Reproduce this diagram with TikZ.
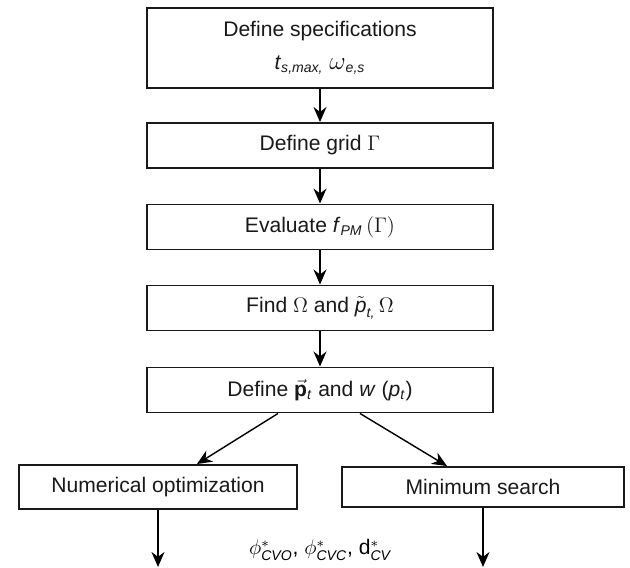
\documentclass[tikz,border=0pt]{standalone}
\usepackage{amsmath,amssymb}
\usepackage{fontspec}
\setmainfont{Liberation Sans}
\usepackage{tikz}
\usetikzlibrary{
	arrows.meta,
	calc,
	positioning,
}
\tikzset{flow box/.style={
	draw,
	rectangle,
	inner sep=0mm,
	line width=1.1pt,
	minimum width=69.2mm,
	minimum height=9mm,
	align=center,
	font=\fontsize{12}{16}\selectfont,
	black!90,
}}

\begin{document}
\begin{tikzpicture}[
x=0.2mm, y=-0.2mm,
line width=0.8pt,
-{Stealth[length=3mm,width=2.6mm]},
]
\useasboundingbox (0,0) rectangle (630,568);

\tikzset{
	spec/.style={flow box, minimum height=16mm},
	solver/.style={flow box, minimum width=55.6mm, minimum height=8.8mm},
}

\node(specs)[spec] at(320,48) {Define specifications\\[2.5pt]
	\textit{t}\textsubscript{\textit{s,max,}} {\Large$\omega$}\textsubscript{\textit{e,s}}};

\begin{scope}[every node/.style={flow box}]
\node(grid)		at(320,145.5)	{Define grid $\Gamma$};
\node(eval)		at(320,227)		{Evaluate \textit{f}\textsubscript{\textit{PM}}\,$(\Gamma)$};
\node(find)		at(320,308)		{Find $\Omega$ and $\tilde{\textit{p}}_{\textit{t,}}\,\Omega$};
\node(define)	at(320,390)		{Define $\vec{\textbf{p}}$\textsubscript{\textit{t}} and \textit{w} (\textit{p}\textsubscript{\textit{t}})};
\end{scope}

\node(numopt)[solver]						at(158,487)	{Numerical optimization};
\node(minsearch)[solver, minimum width=56.4mm, minimum height=8mm]	at(483,487)	{Minimum search};

\node(result)[font=\fontsize{12}{14}\selectfont] at(320,550)
	{$\phi^*_{\textit{CVO}}$, $\phi^*_{\textit{CVC}}$, d$^*_{\textit{CV}}$};

\coordinate(outL) at(158,567);
\coordinate(outR) at(483,567);

\draw (specs) to (grid);
\draw (grid) to (eval);
\draw (eval) to (find);
\draw (find) to (define);
\draw ([xshift=-8.4mm]define.south) to ([xshift=7.8mm]numopt.north);
\draw ([xshift=8mm]define.south) to ([xshift=-7.2mm]minsearch.north);
\draw (numopt) to (outL);
\draw (minsearch) to (outR);

\end{tikzpicture}
\end{document}
